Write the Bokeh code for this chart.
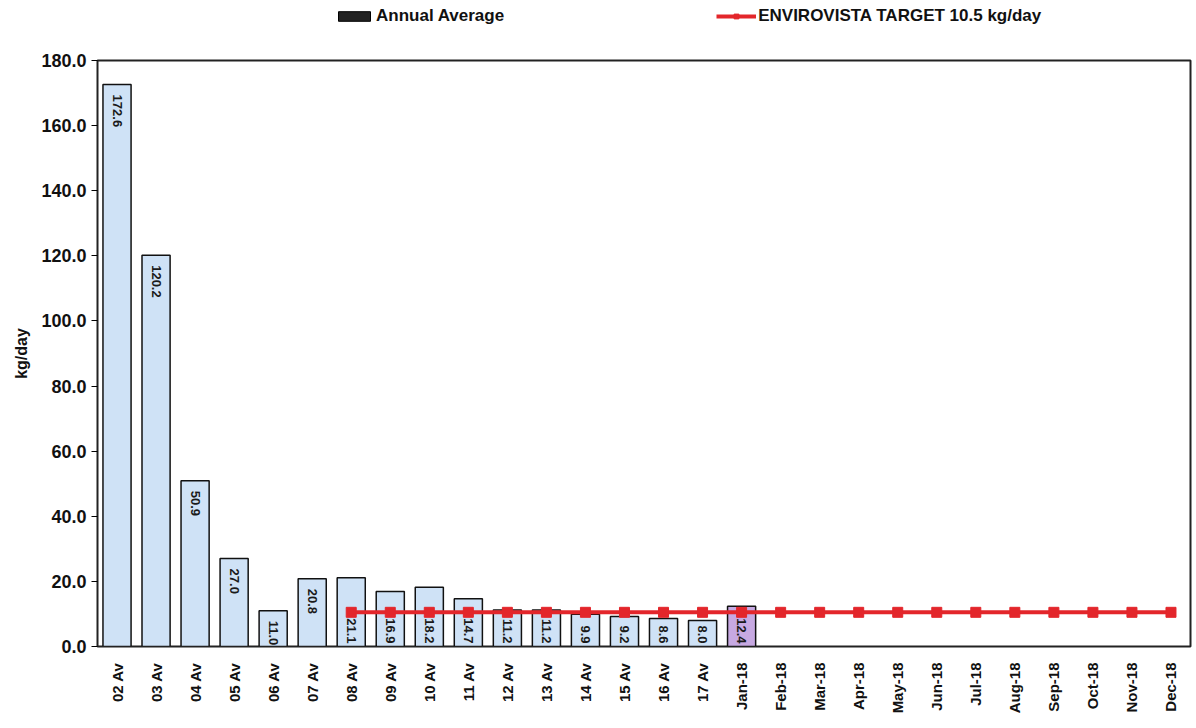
import math
from bokeh.plotting import figure
from bokeh.layouts import column
from bokeh.models import ColumnDataSource, FactorRange, Range1d, Legend, LegendItem, NumeralTickFormatter, FixedTicker
from bokeh.core.properties import value
from bokeh.embed import file_html
from bokeh.resources import INLINE

categories = ["02 Av", "03 Av", "04 Av", "05 Av", "06 Av", "07 Av", "08 Av", "09 Av",
              "10 Av", "11 Av", "12 Av", "13 Av", "14 Av", "15 Av", "16 Av", "17 Av",
              "Jan-18", "Feb-18", "Mar-18", "Apr-18", "May-18", "Jun-18", "Jul-18",
              "Aug-18", "Sep-18", "Oct-18", "Nov-18", "Dec-18"]
annual_values = [172.6, 120.2, 50.9, 27.0, 11.0, 20.8, 21.1, 16.9, 18.2, 14.7,
                 11.2, 11.2, 9.9, 9.2, 8.6, 8.0, 12.4]
target_values = [None] * 6 + [10.5] * 22

BLUE = "#cfe2f6"
PURPLE = "#c7a9e2"
RED = "#e3262b"
FONT = "Liberation Sans"

bar_cats = categories[:len(annual_values)]
bar_colors = [PURPLE if c.endswith("-18") else BLUE for c in bar_cats]
labels = ["%.1f" % v for v in annual_values]
tx = [c for c, t in zip(categories, target_values) if t is not None]
ty = [t for t in target_values if t is not None]

LEG_H = 36
p = figure(x_range=FactorRange(*categories, range_padding=0), y_range=Range1d(0, 180),
           width=1194, height=684, output_backend="svg", toolbar_location=None,
           min_border_left=97, min_border_right=4, min_border_top=60 - LEG_H, min_border_bottom=74)

bars = p.vbar(x=bar_cats, top=annual_values, width=0.72, fill_color=bar_colors,
              line_color="#111111", line_width=1.5)
tline = p.line(x=tx, y=ty, line_color=RED, line_width=4)
tmark = p.scatter(x=tx, y=ty, marker="square", size=10, fill_color=RED, line_color=RED)

# data labels
top_idx = [i for i in range(len(annual_values)) if target_values[i] is None]
bot_idx = [i for i in range(len(annual_values)) if target_values[i] is not None]
top_src = ColumnDataSource(dict(x=[bar_cats[i] for i in top_idx], y=[annual_values[i] for i in top_idx],
                                t=[labels[i] for i in top_idx]))
bot_src = ColumnDataSource(dict(x=[bar_cats[i] for i in bot_idx], y=[0] * len(bot_idx),
                                t=[labels[i] for i in bot_idx]))
p.text(x="x", y="y", text="t", source=top_src, angle=-math.pi / 2, text_align="left",
       text_baseline="middle", y_offset=10, text_font=value(FONT), text_font_style="bold",
       text_font_size="13px", text_color="#1a1a1a")
p.text(x="x", y="y", text="t", source=bot_src, angle=-math.pi / 2, text_align="right",
       text_baseline="middle", y_offset=-3, text_font=value(FONT), text_font_style="bold",
       text_font_size="13px", text_color="#1a1a1a")

p.xgrid.visible = False
p.ygrid.visible = False
p.outline_line_color = "#222222"
p.outline_line_width = 2

p.yaxis.ticker = FixedTicker(ticks=list(range(0, 181, 20)))
p.yaxis.formatter = NumeralTickFormatter(format="0.0")
p.yaxis.axis_label = "kg/day"
p.yaxis.axis_label_text_font = FONT
p.yaxis.axis_label_text_font_style = "bold"
p.yaxis.axis_label_text_font_size = "16px"
p.yaxis.axis_label_text_color = "#111111"
p.yaxis.axis_label_standoff = 8
p.yaxis.major_label_text_font = FONT
p.yaxis.major_label_text_font_style = "bold"
p.yaxis.major_label_text_font_size = "18px"
p.yaxis.major_label_text_color = "#111111"
p.yaxis.major_tick_in = 0
p.yaxis.major_tick_out = 6
p.yaxis.minor_tick_line_color = None
p.yaxis.axis_line_color = "#222222"

p.xaxis.major_label_orientation = math.pi / 2
p.xaxis.major_label_text_font = FONT
p.xaxis.major_label_text_font_style = "bold"
p.xaxis.major_label_text_font_size = "15px"
p.xaxis.major_label_text_color = "#111111"
p.xaxis.major_label_standoff = 10
p.xaxis.major_tick_line_color = None
p.xaxis.axis_line_color = "#222222"

# legend strip above the chart (its renderers share the data but lie outside its visible range)
lf = figure(width=1194, height=LEG_H, output_backend="svg", toolbar_location=None,
            x_axis_type=None, y_axis_type=None, min_border=0,
            x_range=FactorRange(*categories), y_range=Range1d(1000, 1001))
lf.outline_line_color = None
lf.xgrid.visible = False
lf.ygrid.visible = False
d_bar = lf.vbar(x=bar_cats, top=annual_values, width=0.5, fill_color="#222222", line_color="#000000")
d_line = lf.line(x=tx, y=ty, line_color=RED, line_width=4)
d_mark = lf.scatter(x=tx, y=ty, marker="square", size=10, fill_color=RED, line_color=RED)
legend = Legend(items=[LegendItem(label="Annual Average", renderers=[d_bar]),
                       LegendItem(label="ENVIROVISTA TARGET 10.5 kg/day", renderers=[d_line, d_mark])],
                orientation="horizontal", location=(237, 10), spacing=212,
                glyph_width=40, glyph_height=12, label_standoff=2,
                label_text_font=FONT, label_text_font_style="bold", label_text_font_size="17px",
                label_text_color="#111111",
                border_line_color=None, background_fill_alpha=0, padding=4, margin=0)
lf.add_layout(legend, "center")

layout = column(lf, p, spacing=0)
open("out.html", "w").write(file_html(layout, INLINE))
